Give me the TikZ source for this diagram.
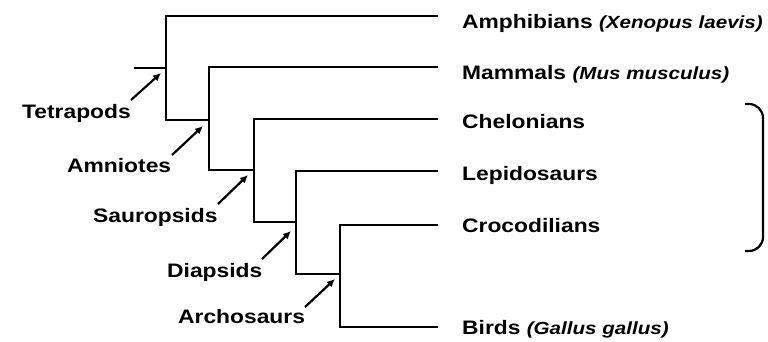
\documentclass[tikz,border=0pt]{standalone}
\usepackage{fontspec}
\setmainfont[FakeStretch=1.17]{Liberation Sans}
\usetikzlibrary{arrows.meta}
\begin{document}
\begin{tikzpicture}[x=1pt,y=-1pt,
  branch/.style={line width=2.5pt,line join=miter},
  lbl/.style={anchor=base west,inner sep=0pt,font=\fontsize{19.5}{20}\selectfont\bfseries},
  ptr/.style={line width=2.2pt,-{Latex[length=8pt,width=7.5pt]}}]
\useasboundingbox (0,0) rectangle (768,341);
\newcommand{\spname}[1]{{\fontsize{17.6}{18}\selectfont\itshape #1}}
% coordinates
\coordinate (root) at (134,68);
\coordinate (tnode) at (166,68);
\coordinate (e1) at (438,16);
\coordinate (e2) at (438,67);
\coordinate (e3) at (438,119);
\coordinate (e4) at (438,171);
\coordinate (e5) at (438,225);
\coordinate (e6) at (438,327);
\coordinate (t1) at (166,16);
\coordinate (t2) at (166,120);
\coordinate (a0) at (209,120);
\coordinate (a1) at (209,67);
\coordinate (a2) at (209,170);
\coordinate (s0) at (254,170);
\coordinate (s1) at (254,119);
\coordinate (s2) at (254,222);
\coordinate (d0) at (296,222);
\coordinate (d1) at (296,171);
\coordinate (d2) at (296,274);
\coordinate (r0) at (340,274);
\coordinate (r1) at (340,225);
\coordinate (r2) at (340,327);
% tree
\draw[branch] (root) -- (tnode);
\draw[branch] (e1) -- (t1) -- (t2) -- (a0);
\draw[branch] (e2) -- (a1) -- (a2) -- (s0);
\draw[branch] (e3) -- (s1) -- (s2) -- (d0);
\draw[branch] (e4) -- (d1) -- (d2) -- (r0);
\draw[branch] (e5) -- (r1) -- (r2) -- (e6);
% leaf labels
\node[lbl] (amph) at (462,28.5) {Amphibians \spname{(Xenopus laevis)}};
\node[lbl] (mamm) at (462,79.5) {Mammals \spname{(Mus musculus)}};
\node[lbl] (chel) at (462,128.5) {Chelonians};
\node[lbl] (lepi) at (462,180) {Lepidosaurs};
\node[lbl] (croc) at (462,232) {Crocodilians};
\node[lbl] (bird) at (462,334) {Birds \spname{(Gallus gallus)}};
% bracket
\coordinate (b1) at (745,104);
\coordinate (b2) at (763,104);
\coordinate (b3) at (763,251);
\coordinate (b4) at (745,251);
\draw[line width=2.2pt,rounded corners=14pt] (b1) -- (b2) -- (b3) -- (b4);
% clade labels
\node[lbl] (tet) at (22,118) {Tetrapods};
\node[lbl] (amn) at (67,172) {Amniotes};
\node[lbl] (sau) at (93,222) {Sauropsids};
\node[lbl] (dia) at (167,277) {Diapsids};
\node[lbl] (arc) at (178,323) {Archosaurs};
% pointer coordinates
\coordinate (tp1) at (131,100); \coordinate (tp2) at (161,73);
\coordinate (am1) at (172,155); \coordinate (am2) at (203,126);
\coordinate (sa1) at (218,204); \coordinate (sa2) at (248,175);
\coordinate (di1) at (262,259); \coordinate (di2) at (291,231);
\coordinate (ar1) at (305,307); \coordinate (ar2) at (335,279);
\draw[ptr] (tp1) -- (tp2);
\draw[ptr] (am1) -- (am2);
\draw[ptr] (sa1) -- (sa2);
\draw[ptr] (di1) -- (di2);
\draw[ptr] (ar1) -- (ar2);
\end{tikzpicture}
\end{document}
